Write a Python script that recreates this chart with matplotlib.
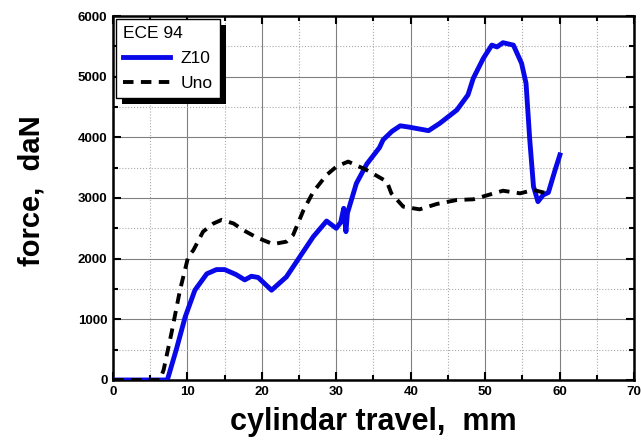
import matplotlib
matplotlib.use("Agg")
import matplotlib.pyplot as plt
from matplotlib.ticker import MultipleLocator
from matplotlib.patches import Rectangle
from matplotlib.transforms import IdentityTransform

plt.rcParams['font.family'] = ['Liberation Sans', 'DejaVu Sans']

z10_x = [0, 2, 5, 7.3, 8.5, 9.7, 11.0, 12.6, 13.9, 15.0, 16.5, 17.7, 18.6, 19.5, 21.3, 23.3,
         25.1, 26.9, 28.7, 30.0, 30.6, 31.0, 31.3, 31.5, 32.7, 34.1, 35.8, 36.3, 37.5, 38.6,
         39.7, 42.4, 43.9, 46.2, 47.7, 48.4, 49.75, 50.9, 51.6, 52.4, 53.8, 54.9, 55.5, 56.0,
         56.5, 57.1, 57.8, 58.5, 59.4, 60.05]
z10_y = [0, 0, 0, 0, 500, 1040, 1480, 1750, 1820, 1820, 1740, 1650, 1710, 1690, 1480, 1700,
         2030, 2360, 2620, 2500, 2600, 2830, 2445, 2750, 3240, 3560, 3830, 3960, 4100, 4190,
         4170, 4110, 4230, 4450, 4700, 4970, 5300, 5520, 5490, 5560, 5520, 5220, 4890, 3960,
         3190, 2940, 3050, 3090, 3460, 3710]

uno_x = [0, 2, 4, 6.3, 6.8, 7.9, 9.0, 10.1, 10.8, 12.1, 13.5, 14.6, 16.2, 17.5, 19.3, 21.5,
         23.3, 24.2, 25.6, 26.9, 28.7, 30.05, 31.6, 34.1, 36.8, 37.4, 39.0, 41.2, 43.5, 46.2,
         48.4, 50.4, 52.4, 54.7, 56.5, 58.3]
uno_y = [0, 0, 0, 0, 165, 800, 1480, 2030, 2140, 2445, 2580, 2640, 2580, 2470, 2350, 2240,
         2280, 2390, 2800, 3100, 3380, 3520, 3600, 3460, 3270, 3077, 2857, 2813, 2901, 2967,
         2978, 3049, 3120, 3077, 3132, 3077]

x_ticks = [0, 10, 20, 30, 40, 50, 60, 70]
y_ticks = [0, 1000, 2000, 3000, 4000, 5000, 6000]

fig = plt.figure(figsize=(6.41, 4.42), dpi=100)
ax = fig.add_axes([0.1763, 0.1403, 0.989 - 0.1763, 0.9638 - 0.1403])

ax.plot(z10_x, z10_y, color='#0808e8', lw=3.5, label='Z10', zorder=3)
ax.plot(uno_x, uno_y, color='black', lw=2.8, ls=(0, (2.7, 1.9)), label='Uno', zorder=3)

ax.set_xlim(0, 70)
ax.set_ylim(0, 6000)
ax.set_xticks(x_ticks)
ax.set_yticks(y_ticks)
ax.xaxis.set_minor_locator(MultipleLocator(5))
ax.yaxis.set_minor_locator(MultipleLocator(500))

ax.grid(which='major', color='#808080', lw=0.8, ls='-')
ax.grid(which='minor', color='#aaaaaa', lw=0.8, ls=':')
ax.set_axisbelow(True)

for sp in ax.spines.values():
    sp.set_linewidth(1.8)

ax.tick_params(which='both', direction='in', top=True, right=True, width=1.5)
ax.tick_params(which='major', length=6, labelsize=9.5, pad=4)
ax.tick_params(which='minor', length=3.5)
for lab in ax.get_xticklabels() + ax.get_yticklabels():
    lab.set_fontweight('bold')

ax.set_xlabel('cylindar travel,  mm', fontsize=22, fontweight='bold')
ax.set_ylabel('force,  daN', fontsize=21, fontweight='bold')
ax.xaxis.set_label_coords(0.5, -0.075)
ax.yaxis.set_label_coords(-0.13, 0.52)

leg = ax.legend(title='ECE 94', loc='upper left', fontsize=12.5, title_fontsize=12.5,
                frameon=True, fancybox=False, edgecolor='black', framealpha=1,
                handlelength=2.7, handletextpad=0.6,
                borderaxespad=0.2, borderpad=0.4, labelspacing=0.55)
leg._legend_box.align = 'left'
leg.get_frame().set_linewidth(1.0)
leg.set_zorder(5)

fig.canvas.draw()
bb = leg.get_window_extent()
shadow = Rectangle((bb.x0 + 6, bb.y0 - 6), bb.width, bb.height, transform=IdentityTransform(),
                   facecolor='black', edgecolor='none', zorder=4.9, clip_on=False)
ax.add_artist(shadow)

fig.savefig('out.png', dpi=100)
